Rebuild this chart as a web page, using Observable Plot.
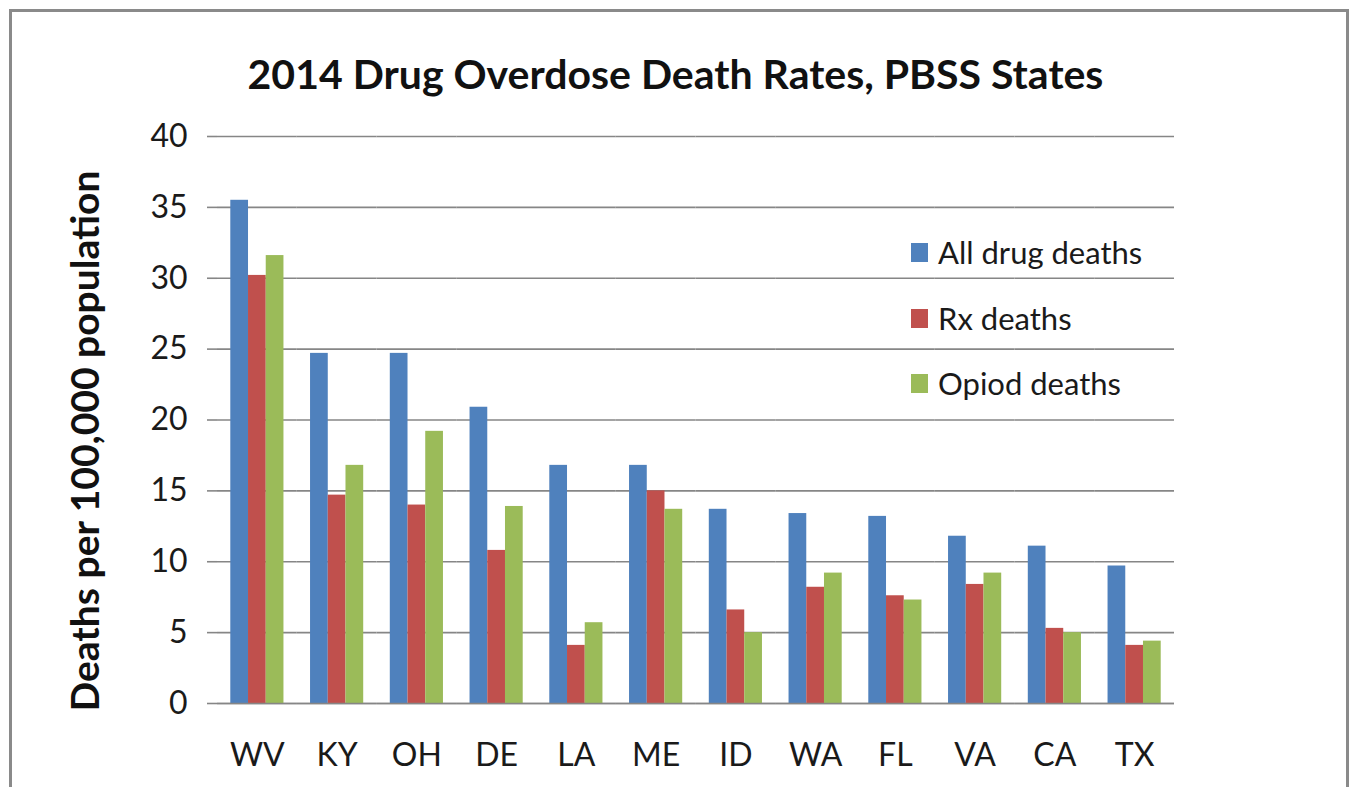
<!DOCTYPE html>
<html>
<head>
<meta charset="utf-8">
<script src="https://cdn.jsdelivr.net/npm/d3@7"></script>
<script src="https://cdn.jsdelivr.net/npm/@observablehq/plot@0.6"></script>
<style>
  html, body { margin: 0; padding: 0; background: #fff; width: 1351px; height: 787px; overflow: hidden; }
  #frame { position: absolute; left: 9px; top: 9px; width: 1334px; height: 800px; border: 3px solid #8a8a8a; }
  #title { position: absolute; left: 0; width: 1351px; top: 49px; text-align: center; font-family: Lato, sans-serif; font-weight: bold; font-size: 41px; color: #111; }
  #ylabel { position: absolute; left: 84px; top: 441px; transform: translate(-50%, -50%) rotate(-90deg); white-space: nowrap; font-family: Lato, sans-serif; font-weight: bold; font-size: 39px; color: #111; }
  #chart { position: absolute; left: 0; top: 110px; }
  .legrow { position: absolute; left: 911px; height: 40px; display: flex; align-items: center; font-family: Lato, sans-serif; font-size: 31px; color: #1a1a1a; }
  .legrow span.sw { display: inline-block; width: 17px; height: 19px; margin-right: 10px; }
</style>
</head>
<body>
<div id="frame"></div>
<div id="title">2014 Drug Overdose Death Rates, PBSS States</div>
<div id="ylabel">Deaths per 100,000 population</div>
<div id="chart"></div>
<div id="legend"></div>
<script>
const states = ["WV", "KY", "OH", "DE", "LA", "ME", "ID", "WA", "FL", "VA", "CA", "TX"];
const seriesNames = ["All drug deaths", "Rx deaths", "Opiod deaths"];
const seriesColors = ["#4F81BD", "#C0504D", "#9BBB59"];
const allDrugDeaths = [35.5, 24.7, 24.7, 20.9, 16.8, 16.8, 13.7, 13.4, 13.2, 11.8, 11.1, 9.7];
const rxDeaths      = [30.2, 14.7, 14.0, 10.8, 4.1, 15.0, 6.6, 8.2, 7.6, 8.4, 5.3, 4.1];
const opiodDeaths   = [31.6, 16.8, 19.2, 13.9, 5.7, 13.7, 5.0, 9.2, 7.3, 9.2, 5.0, 4.4];
const yTicks = [0, 5, 10, 15, 20, 25, 30, 35, 40];

const seriesValues = [allDrugDeaths, rxDeaths, opiodDeaths];
const data = [];
states.forEach((s, i) => seriesNames.forEach((n, j) => data.push({state: s, series: n, value: seriesValues[j][i]})));

const gridColor = "#868686";

const plot = Plot.plot({
  width: 1351,
  height: 677,
  marginLeft: 217,
  marginRight: 177,
  marginTop: 26,
  marginBottom: 84,
  style: {fontFamily: "Lato, sans-serif", color: "#1a1a1a", background: "transparent"},
  fx: {domain: states, padding: 0, round: false, label: null},
  x: {domain: seriesNames, paddingInner: 0, paddingOuter: 0.75, round: false, axis: null},
  y: {domain: [0, 40], label: null},
  color: {domain: seriesNames, range: seriesColors},
  marks: [
    Plot.gridY(yTicks, {stroke: gridColor, strokeOpacity: 1, strokeWidth: 1.6}),
    Plot.barY(data, {fx: "state", x: "series", y: "value", fill: "series"}),
    Plot.ruleY([0], {stroke: gridColor, strokeWidth: 1.6}),
    Plot.dot(states, {
      fx: d => d,
      render: (index, scales, values, dimensions) => {
        const g = d3.create("svg:g");
        const st = states[index[0]];
        const r = scales.x.range();
        const l = Math.min(...r), rr = Math.max(...r);
        const y0 = scales.y(0), yTop = scales.y(40);
        g.append("line").attr("x1", l).attr("x2", l).attr("y1", y0).attr("y2", y0 + 12)
          .attr("stroke", gridColor).attr("stroke-width", 1.6);
        if (st === states[states.length - 1]) {
          g.append("line").attr("x1", rr).attr("x2", rr).attr("y1", y0).attr("y2", y0 + 12)
            .attr("stroke", gridColor).attr("stroke-width", 1.6);
        }
        if (st === states[0]) {
          g.append("line").attr("x1", l).attr("x2", l).attr("y1", yTop).attr("y2", y0 + 12)
            .attr("stroke", gridColor).attr("stroke-width", 1.6);
        }
        return g.node();
      }
    }),
    Plot.axisY(yTicks, {tickSize: 10, tickPadding: 20, fontSize: 32, stroke: gridColor, strokeWidth: 1.6, fill: "#1a1a1a", label: null}),
    Plot.axisFx({anchor: "bottom", tickSize: 0, tickPadding: 40, fontSize: 32, fill: "#1a1a1a", label: null})
  ]
});
document.getElementById("chart").appendChild(plot);

// Legend built from the color scale
const color = plot.scale("color");
const legend = document.getElementById("legend");
const rowCenters = [252, 318, 383];
color.domain.forEach((name, i) => {
  const row = document.createElement("div");
  row.className = "legrow";
  row.style.top = (rowCenters[i] - 20) + "px";
  const sw = document.createElement("span");
  sw.className = "sw";
  sw.style.background = color.range[i];
  row.appendChild(sw);
  row.appendChild(document.createTextNode(name));
  legend.appendChild(row);
});
</script>
</body>
</html>
